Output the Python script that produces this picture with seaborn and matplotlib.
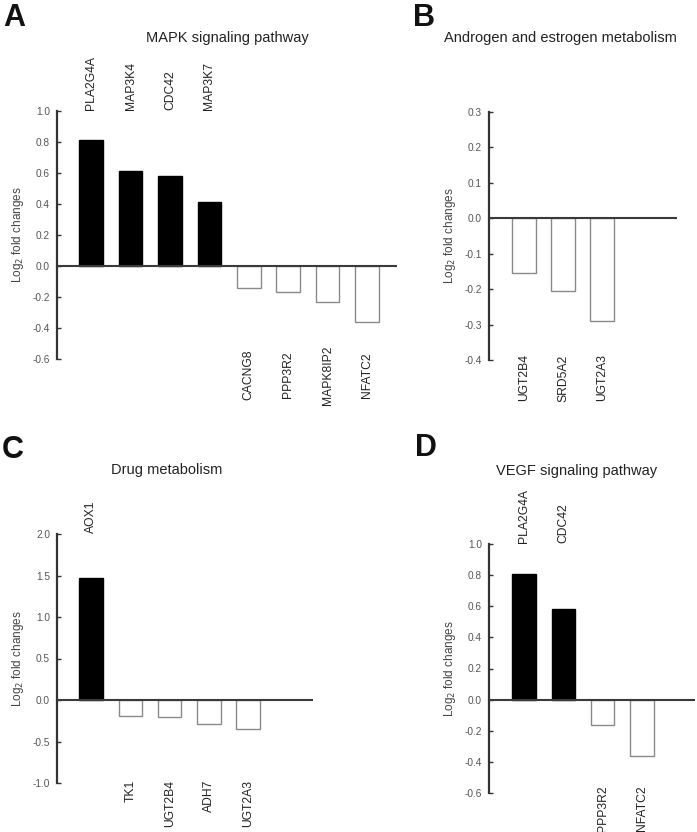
import matplotlib
matplotlib.use("Agg")
import matplotlib.pyplot as plt
import seaborn as sns
import pandas as pd

# ---- data ----
mapk_genes = ["PLA2G4A", "MAP3K4", "CDC42", "MAP3K7", "CACNG8", "PPP3R2", "MAPK8IP2", "NFATC2"]
mapk_values = [0.81, 0.61, 0.58, 0.41, -0.14, -0.165, -0.235, -0.36]

andro_genes = ["UGT2B4", "SRD5A2", "UGT2A3"]
andro_values = [-0.155, -0.205, -0.29]

drug_genes = ["AOX1", "TK1", "UGT2B4", "ADH7", "UGT2A3"]
drug_values = [1.47, -0.19, -0.2, -0.285, -0.355]

vegf_genes = ["PLA2G4A", "CDC42", "PPP3R2", "NFATC2"]
vegf_values = [0.81, 0.585, -0.165, -0.36]

titles = ["MAPK signaling pathway", "Androgen and estrogen metabolism",
          "Drug metabolism", "VEGF signaling pathway"]
letters = ["A", "B", "C", "D"]
ylims = [(-0.6, 1.0), (-0.4, 0.3), (-1.0, 2.0), (-0.6, 1.0)]
yticks = [[-0.6, -0.4, -0.2, 0.0, 0.2, 0.4, 0.6, 0.8, 1.0],
          [-0.4, -0.3, -0.2, -0.1, 0.0, 0.1, 0.2, 0.3],
          [-1.0, -0.5, 0.0, 0.5, 1.0, 1.5, 2.0],
          [-0.6, -0.4, -0.2, 0.0, 0.2, 0.4, 0.6, 0.8, 1.0]]

# ---- layout (pixels) ----
W, H = 697, 832
sns.set_style("white")
plt.rcParams["font.family"] = ["Liberation Sans", "DejaVu Sans"]

fig = plt.figure(figsize=(W / 100, H / 100), dpi=100)

def rect(l, r, t, b):
    return [l / W, 1 - b / H, (r - l) / W, (b - t) / H]

rects = [rect(57, 397, 111, 359), rect(489, 677, 112, 360),
         rect(57, 313, 534, 783), rect(489, 695, 544, 793)]
xlims = [(-0.87, 7.76), (-0.89, 3.91), (-0.87, 5.65), (-0.89, 4.35)]
# bottom label placement: (va, pixel offset)
bottom_lab = [("center", -16), ("center", -18), ("top", 3), ("top", 8)]
title_pos = [(227, 38), (560, 38), (167, 470), (577, 471)]
letter_pos = [(3, 3), (413, 3), (2, 435), (415, 433)]

datasets = [(mapk_genes, mapk_values), (andro_genes, andro_values),
            (drug_genes, drug_values), (vegf_genes, vegf_values)]

for k, (genes, vals) in enumerate(datasets):
    ax = fig.add_axes(rects[k])
    df = pd.DataFrame({"gene": genes, "value": vals,
                       "dir": ["up" if v > 0 else "down" for v in vals]})
    sns.barplot(data=df, x="gene", y="value", hue="dir", order=genes,
                hue_order=["up", "down"],
                palette={"up": "black", "down": "white"},
                dodge=False, width=0.6, legend=False, ax=ax)
    for p in ax.patches:
        h = p.get_height()
        if h > 0:
            p.set_edgecolor("black")
            p.set_linewidth(1.0)
        elif h < 0:
            p.set_edgecolor("#8a8a8a")
            p.set_linewidth(1.0)
    ax.set_xlim(*xlims[k])
    ax.set_ylim(*ylims[k])
    ax.set_yticks(yticks[k])
    ax.set_yticklabels([f"{t:.1f}" for t in yticks[k]])
    ax.set_xticks([])
    ax.set_xlabel("")
    ax.axhline(0, color="#3a3a3a", lw=1.5, zorder=3)
    for s in ["top", "right", "bottom"]:
        ax.spines[s].set_visible(False)
    ax.spines["left"].set_color("#333333")
    ax.spines["left"].set_linewidth(1.6)
    ax.tick_params(axis="y", direction="in", length=3, width=1, color="#333333",
                   labelsize=7.3, labelcolor="#555555", pad=5, left=True)
    ax.set_ylabel("Log$_2$ fold changes", fontsize=8.5, color="#444444")
    wpx = rects[k][2] * W
    ax.yaxis.set_label_coords(-31 / wpx, 0.5)
    ymin, ymax = ylims[k]
    va_b, off_b = bottom_lab[k]
    for i, (g, v) in enumerate(zip(genes, vals)):
        if v > 0:
            ax.annotate(g, xy=(i, ymax), xycoords="data",
                        xytext=(0, 1), textcoords="offset pixels",
                        rotation=90, ha="center", va="bottom",
                        fontsize=8.7, color="#222222", annotation_clip=False)
        else:
            ax.annotate(g, xy=(i, ymin), xycoords="data",
                        xytext=(0, off_b), textcoords="offset pixels",
                        rotation=90, ha="center", va=va_b,
                        fontsize=8.7, color="#222222", annotation_clip=False)
    tx, ty = title_pos[k]
    fig.text(tx / W, 1 - ty / H, titles[k], ha="center", va="center",
             fontsize=10.5, color="#222222")
    lx, ly = letter_pos[k]
    fig.text(lx / W, 1 - ly / H, letters[k], ha="left", va="top",
             fontsize=22, fontweight="bold", color="#111111")

fig.savefig("out.png", dpi=100)
